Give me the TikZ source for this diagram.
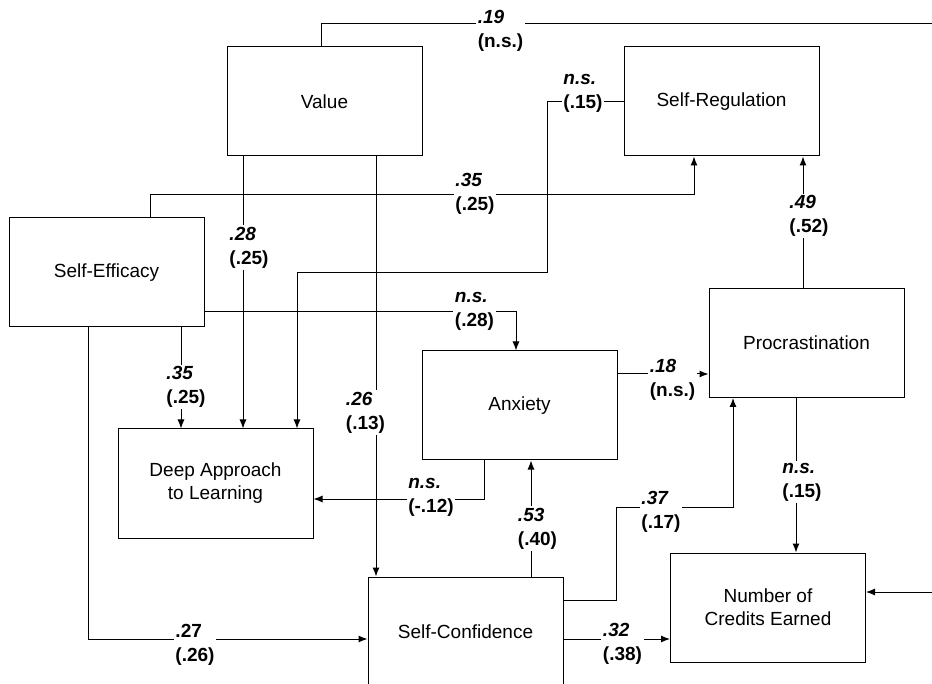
\documentclass[tikz,border=0pt]{standalone}
\usepackage{fontspec}
\setmainfont{Liberation Sans}
\usetikzlibrary{arrows.meta}
\usetikzlibrary{positioning}

\begin{document}
\begin{tikzpicture}[
  x=1pt, y=-1pt,
  factor/.style={draw, rectangle, line width=1pt, minimum width=195pt, minimum height=109pt,
    inner sep=0pt, align=center, font=\fontsize{19}{23}\selectfont},
  arr/.style={line width=1pt, -{Latex[length=9pt,width=7pt]}},
  coef/.style={fill=white, align=left, inner sep=1.5pt, font=\fontsize{19}{24}\selectfont\bfseries},
]
\useasboundingbox (0,0) rectangle (932,684);

\node (value)    [factor] at (324.5,101.5) {Value};
\node (selfreg)  [factor] at (721.5,101.5) {Self-Regulation};
\node (selfeff)  [factor] at (106.5,272.5) {Self-Efficacy};
\node (procr)    [factor] at (806.5,343)   {Procrastination};
\node (anxiety)  [factor] at (519.5,405.5) {Anxiety};
\node (deep)     [factor] at (215.5,483.5) {Deep Approach\\to Learning};
\node (selfconf) [factor] at (465.5,631.5) {Self-Confidence};
\node (credits)  [factor] at (768,607.5)   {Number of\\Credits Earned};

\coordinate (far)    at (950,24);
\coordinate (srbend) at (547,273);
\coordinate (scbend) at (616,507);

\draw[arr] ([shift={(-3.5,0)}]value.north) |- (far) |- ([shift={(0,-15.5)}]credits.east);
\draw[arr] ([shift={(43.5,0)}]selfeff.north) -- ++(0,-23) -| ([shift={(-27.5,0)}]selfreg.south);
\draw[arr] ([shift={(-81.5,0)}]value.south) -- ([shift={(27.5,0)}]deep.north);
\draw[arr] ([shift={(51.5,0)}]value.south) -- ([shift={(-89.5,0)}]selfconf.north);
\draw[arr] (selfreg.west) -| (srbend) -| ([shift={(81.5,0)}]deep.north);
\draw[arr] ([shift={(0,39.5)}]selfeff.east) -| ([shift={(-3.5,0)}]anxiety.north);
\draw[arr] ([shift={(74.5,0)}]selfeff.south) -- ([shift={(-34.5,0)}]deep.north);
\draw[arr] ([shift={(-18.5,0)}]selfeff.south) |- ([shift={(0,7.5)}]selfconf.west);
\draw[arr] ([shift={(-35.5,0)}]anxiety.south) |- ([shift={(0,15.5)}]deep.east);
\draw[arr] ([shift={(65.5,0)}]selfconf.north) -- ([shift={(11.5,0)}]anxiety.south);
\draw[arr] ([shift={(0,-31.5)}]anxiety.east) -- ([shift={(0,31)}]procr.west);
\draw[arr] ([shift={(0,-31.5)}]selfconf.east) -| (scbend) -| ([shift={(-73.5,0)}]procr.south);
\draw[arr] ([shift={(0,7.5)}]selfconf.east) -- ([shift={(0,31.5)}]credits.west);
\draw[arr] ([shift={(-3.5,0)}]procr.north) -- ([shift={(81.5,0)}]selfreg.south);
\draw[arr] ([shift={(-10.5,0)}]procr.south) -- ([shift={(28,0)}]credits.north);

\foreach [count=\i] \x/\y/\p/\q in {
  500.5/30.5/\textit{.19}/{(n.s.)},
  475/194/\textit{.35}/{(.25)},
  249/247.5/\textit{.28}/{(.25)},
  365.5/412.5/\textit{.26}/{(.13)},
  583/93.5/\textit{n.s.}/{(.15)},
  474.5/311.5/\textit{n.s.}/{(.28)},
  186/387/\textit{.35}/{(.25)},
  195/644.5/.27/{(.26)},
  431/497.5/\textit{n.s.}/{(-.12)},
  537.5/528.5/\textit{.53}/{(.40)},
  672.5/379.5/\textit{.18}/{(n.s.)},
  661/512/\textit{.37}/{(.17)},
  622.5/644/\textit{.32}/{(.38)},
  809/216/\textit{.49}/{(.52)},
  802/482/\textit{n.s.}/{(.15)}} {
  \node (coef\i) [coef] at (\x,\y) {\p\\\q};
}
\end{tikzpicture}
\end{document}
